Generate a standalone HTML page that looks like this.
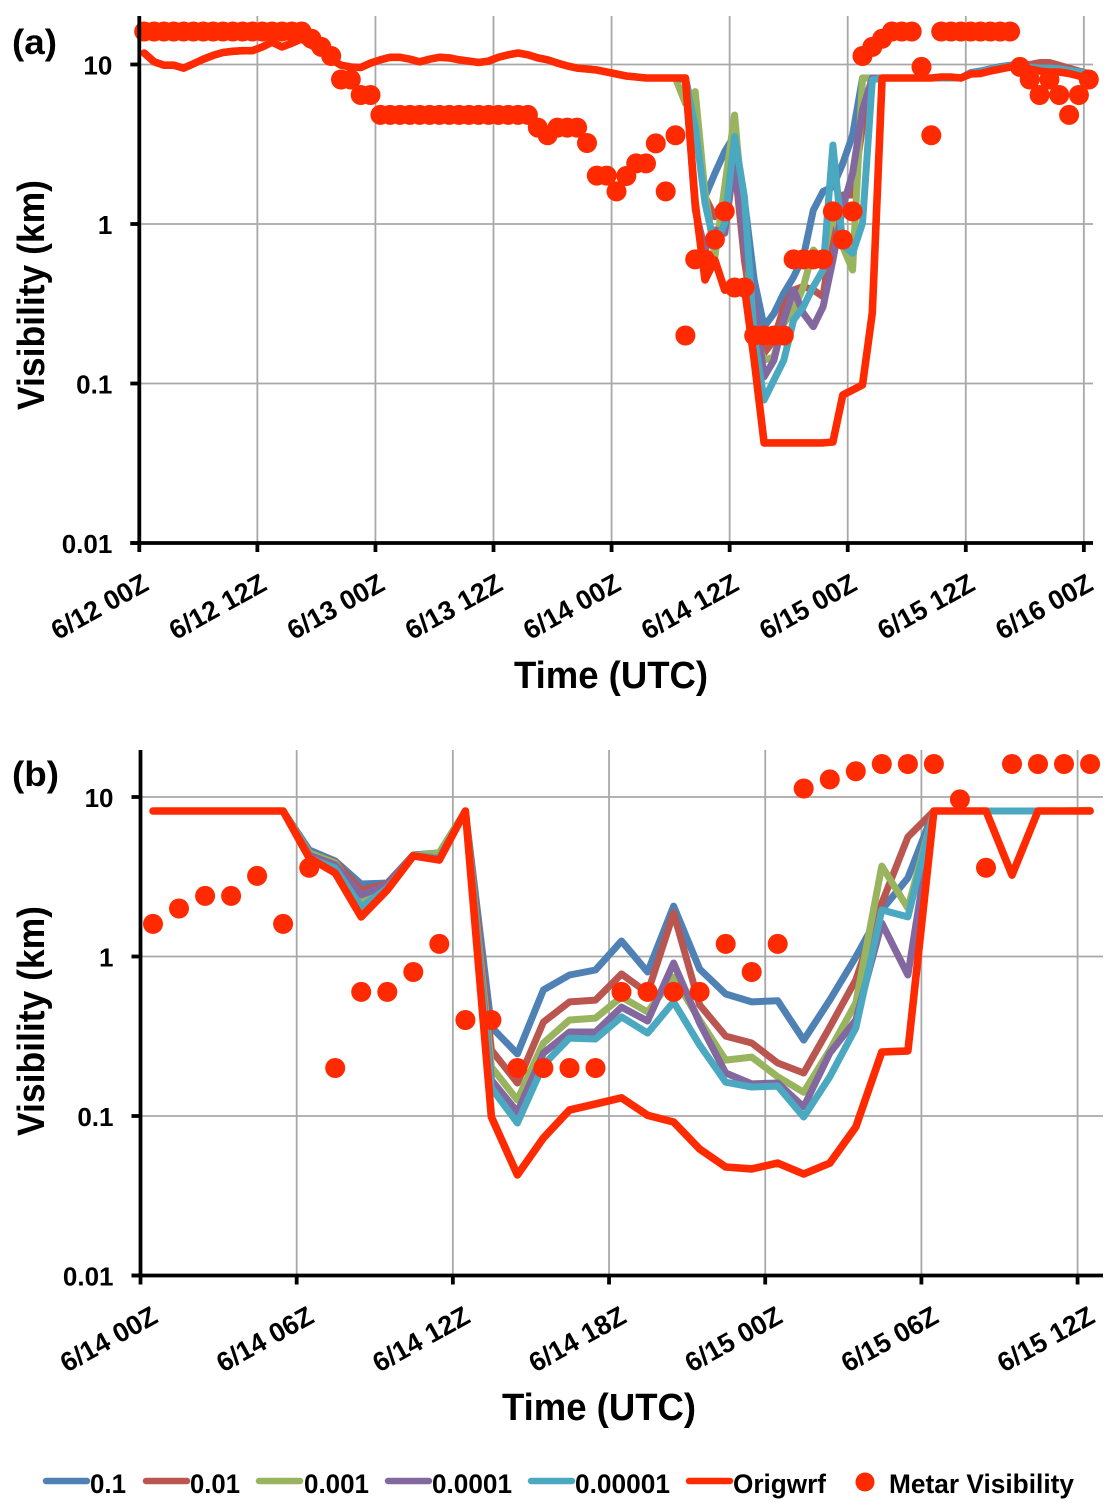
<!DOCTYPE html>
<html lang="en">
<head>
<meta charset="utf-8">
<title>Visibility time series</title>
<style>
html,body{margin:0;padding:0;background:#fff;}
svg{display:block;}
text{font-family:"Liberation Sans",sans-serif;font-weight:bold;fill:#000;}
</style>
</head>
<body>
<svg id="chart" xmlns="http://www.w3.org/2000/svg" width="1120" height="1512" viewBox="0 0 1120 1512">
  <rect x="0" y="0" width="1120" height="1512" fill="#fff"/>
  <g id="panelA"></g>
  <g id="panelB"></g>

  <text x="12" y="54" font-size="35" textLength="45" lengthAdjust="spacingAndGlyphs">(a)</text>
  <text x="12" y="786" font-size="35" textLength="47" lengthAdjust="spacingAndGlyphs">(b)</text>
  <text transform="translate(44,410) rotate(-90)" font-size="38" textLength="230" lengthAdjust="spacingAndGlyphs">Visibility (km)</text>
  <text transform="translate(44,1136) rotate(-90)" font-size="38" textLength="230" lengthAdjust="spacingAndGlyphs">Visibility (km)</text>
  <text x="514" y="688" font-size="38" textLength="194" lengthAdjust="spacingAndGlyphs">Time (UTC)</text>
  <text x="502" y="1420" font-size="38" textLength="194" lengthAdjust="spacingAndGlyphs">Time (UTC)</text>

  <g>
    <g>
      <line x1="46" y1="1481" x2="87" y2="1481" stroke="#4f81b5" stroke-width="6.5" stroke-linecap="round"/>
      <text x="90" y="1493" font-size="27" textLength="36" lengthAdjust="spacingAndGlyphs">0.1</text>
    </g>
    <g>
      <line x1="146" y1="1481" x2="187" y2="1481" stroke="#bb5550" stroke-width="6.5" stroke-linecap="round"/>
      <text x="190" y="1493" font-size="27" textLength="50" lengthAdjust="spacingAndGlyphs">0.01</text>
    </g>
    <g>
      <line x1="259" y1="1481" x2="300" y2="1481" stroke="#98b45f" stroke-width="6.5" stroke-linecap="round"/>
      <text x="304" y="1493" font-size="27" textLength="65" lengthAdjust="spacingAndGlyphs">0.001</text>
    </g>
    <g>
      <line x1="388" y1="1481" x2="429" y2="1481" stroke="#83689f" stroke-width="6.5" stroke-linecap="round"/>
      <text x="432" y="1493" font-size="27" textLength="80" lengthAdjust="spacingAndGlyphs">0.0001</text>
    </g>
    <g>
      <line x1="531" y1="1481" x2="572" y2="1481" stroke="#4aa8c0" stroke-width="6.5" stroke-linecap="round"/>
      <text x="575" y="1493" font-size="27" textLength="95" lengthAdjust="spacingAndGlyphs">0.00001</text>
    </g>
    <g>
      <line x1="689" y1="1481" x2="730" y2="1481" stroke="#ff2a00" stroke-width="6.5" stroke-linecap="round"/>
      <text x="733" y="1493" font-size="27" textLength="93" lengthAdjust="spacingAndGlyphs">Origwrf</text>
    </g>
    <g>
      <circle cx="865" cy="1482" r="9.5" fill="#ff2a00"/>
      <text x="889" y="1493" font-size="27" textLength="185" lengthAdjust="spacingAndGlyphs">Metar Visibility</text>
    </g>
  </g>
</svg>
<script>
/* ---------- shared ---------- */
const seriesNames = ['0.1','0.01','0.001','0.0001','0.00001','origwrf'];
const seriesColors = ['#4f81b5','#bb5550','#98b45f','#83689f','#4aa8c0','#ff2a00'];
const yTickValues = [10,1,0.1,0.01];
const yTickLabels = ['10','1','0.1','0.01'];

/* ---------- panel (a): hourly, 6/12 00Z onward, km ---------- */
const xTickLabelsA = ['6/12 00Z','6/12 12Z','6/13 00Z','6/13 12Z','6/14 00Z','6/14 12Z','6/15 00Z','6/15 12Z','6/16 00Z'];
const vis01A = [11.8,10.4,9.9,9.9,9.5,10.1,10.8,11.4,11.9,12.1,12.2,12.2,12.9,13.8,12.9,13.6,14.5,13.2,12,10.8,9.9,9.65,9.57,10.2,10.7,11.1,11.1,10.8,10.4,10.8,11.1,11,10.7,10.5,10.3,10.5,11.1,11.5,11.8,11.5,11,10.7,10.2,9.8,9.5,9.37,9.24,8.97,8.72,8.47,8.35,8.23,8.23,8.23,8.23,
  8.23,4.28,1.48,2.08,2.84,3.61,1.41,.446,.227,.275,.368,.466,.624,1.22,1.6,1.71,2.4,3.61,8.23,8.23,
  8.23,8.23,8.23,8.23,8.23,8.23,8.23,8.23,8.23,8.9,9.1,9.4,9.7,9.9,9.9,9.7,9.5,9.4,9.3,9.1,8.9,8.6];
const vis001A = [11.8,10.4,9.9,9.9,9.5,10.1,10.8,11.4,11.9,12.1,12.2,12.2,12.9,13.8,12.9,13.6,14.5,13.2,12,10.8,9.9,9.65,9.57,10.2,10.7,11.1,11.1,10.8,10.4,10.8,11.1,11,10.7,10.5,10.3,10.5,11.1,11.5,11.8,11.5,11,10.7,10.2,9.8,9.5,9.37,9.24,8.97,8.72,8.47,8.35,8.23,8.23,8.23,8.23,
  8.23,4.28,1.48,1.11,1.28,2.4,.595,.227,.155,.187,.303,.386,.405,.386,.35,.962,1.52,1.52,4.08,8.23,
  8.23,8.23,8.23,8.23,8.23,8.23,8.23,8.23,8.23,8.8,9,9.3,9.6,9.8,9.9,10,10.3,10.3,9.9,9.5,9.1,8.8];
const vis0001A = [11.8,10.4,9.9,9.9,9.5,10.1,10.8,11.4,11.9,12.1,12.2,12.2,12.9,13.8,12.9,13.6,14.5,13.2,12,10.8,9.9,9.65,9.57,10.2,10.7,11.1,11.1,10.8,10.4,10.8,11.1,11,10.7,10.5,10.3,10.5,11.1,11.5,11.8,11.5,11,10.7,10.2,9.8,9.5,9.37,9.24,8.97,8.72,8.47,8.35,8.23,8.23,8.23,8.19,
  5.71,6.76,1.56,.624,1.71,4.82,.962,.206,.14,.147,.238,.289,.405,.687,.595,1.22,.721,.515,8.19,8.23,
  8.23,8.23,8.23,8.23,8.23,8.23,8.23,8.23,8.23,8.8,9,9.3,9.6,9.8,9.8,9.7,9.5,9.4,9.3,9.1,8.9,8.6];
const vis00001A = [11.8,10.4,9.9,9.9,9.5,10.1,10.8,11.4,11.9,12.1,12.2,12.2,12.9,13.8,12.9,13.6,14.5,13.2,12,10.8,9.9,9.65,9.57,10.2,10.7,11.1,11.1,10.8,10.4,10.8,11.1,11,10.7,10.5,10.3,10.5,11.1,11.5,11.8,11.5,11,10.7,10.2,9.8,9.5,9.37,9.24,8.97,8.72,8.47,8.35,8.23,8.23,8.23,8.23,
  8,1.22,.687,.917,.874,2.52,.721,.334,.11,.14,.25,.386,.275,.227,.303,.595,1.28,2.08,5.19,8.23,
  8.23,8.23,8.23,8.23,8.23,8.23,8.23,8.23,8.23,8.8,9,9.3,9.6,9.8,9.8,9.7,9.5,9.4,9.3,9.1,8.9,8.6];
const vis000001A = [11.8,10.4,9.9,9.9,9.5,10.1,10.8,11.4,11.9,12.1,12.2,12.2,12.9,13.8,12.9,13.6,14.5,13.2,12,10.8,9.9,9.65,9.57,10.2,10.7,11.1,11.1,10.8,10.4,10.8,11.1,11,10.7,10.5,10.3,10.5,11.1,11.5,11.8,11.5,11,10.7,10.2,9.8,9.5,9.37,9.24,8.97,8.72,8.47,8.35,8.23,8.23,8.23,8.23,
  8,4.08,1.35,.721,1.01,3.53,1.48,.197,.0788,.105,.14,.25,.303,.405,.515,3.13,.738,.655,1.01,8,
  8.23,8.23,8.23,8.23,8.23,8.23,8.23,8.23,8.23,8.8,9,9.3,9.6,9.8,9.8,9.6,9.5,9.5,9.4,9.2,9,8.8];
const visOrigA = [11.8,10.4,9.9,9.9,9.5,10.1,10.8,11.4,11.9,12.1,12.2,12.2,12.9,13.8,12.9,13.6,14.5,13.2,12,10.8,9.9,9.65,9.57,10.2,10.7,11.1,11.1,10.8,10.4,10.8,11.1,11,10.7,10.5,10.3,10.5,11.1,11.5,11.8,11.5,11,10.7,10.2,9.8,9.5,9.37,9.24,8.97,8.72,8.47,8.35,8.23,8.23,8.23,8.23,
  8.23,1.355,.446,.594,.385,.403,.403,.14,.0424,.0424,.0424,.0424,.0424,.0424,.0424,.043,.0847,.091,.098,.277,
  8.23,8.23,8.23,8.23,8.23,8.23,8.35,8.35,8.23,8.72,8.78,9.1,9.37,9.65,9.65,9.37,9.1,8.97,8.97,8.78,8.47,8.11];
const metarA = [16.1,16.1,16.1,16.1,16.1,16.1,16.1,16.1,16.1,16.1,16.1,16.1,16.1,16.1,16.1,16.1,16.1,14.5,12.9,11.3,8.05,8.05,6.44,6.44,
  4.83,4.83,4.83,4.83,4.83,4.83,4.83,4.83,4.83,4.83,4.83,4.83,4.83,4.83,4.83,4.83,4.02,3.6,4.02,4.02,4.02,3.22,2.01,2.01,
  1.6,2,2.4,2.4,3.2,1.6,3.6,.2,.6,.6,.8,1.2,.4,.4,.2,.2,.2,.2,.6,.6,.6,.6,1.2,.8,1.2,11.3,12.9,14.5,16.1,16.1,16.1,9.66,3.6,
  16.1,16.1,16.1,16.1,16.1,16.1,16.1,16.1,9.66,8.05,6.44,8.05,6.44,4.83,6.44,8.05];

/* ---------- panel (b): hourly, 6/14 00Z onward, km ---------- */
const xTickLabelsB = ['6/14 00Z','6/14 06Z','6/14 12Z','6/14 18Z','6/15 00Z','6/15 06Z','6/15 12Z'];
const vis01B = [8.17,8.17,8.17,8.17,8.17,8.17,4.65,3.97,2.85,2.89,4.33,4.46,8.17,.361,.245,.617,.766,.823,1.25,.8,2.07,.835,.582,.519,.528,.299,.533,.993,1.96,3.11,8.17,8.17,8.17,8.17,8.17,8.17,8.17];
const vis001B = [8.17,8.17,8.17,8.17,8.17,8.17,4.46,3.91,2.61,2.85,4.33,4.15,8.17,.259,.161,.388,.519,.533,.777,.59,1.87,.497,.317,.287,.215,.186,.361,.713,2.16,5.61,8.17,8.17,8.17,8.17,8.17,8.17,8.17];
const vis0001B = [8.17,8.17,8.17,8.17,8.17,8.17,4.46,3.86,2.26,2.77,4.27,4.46,8.17,.203,.126,.287,.4,.411,.557,.449,.743,.4,.224,.234,.176,.141,.259,.511,3.69,2.01,8.17,8.17,8.17,8.17,8.17,8.17,8.25];
const vis00001B = [8.17,8.17,8.17,8.17,8.17,8.17,4.33,3.75,2.43,2.81,4.27,4.15,8.17,.168,.106,.248,.336,.336,.482,.394,.91,.383,.186,.159,.161,.114,.248,.4,1.62,.766,8.17,8.17,8.17,8.17,8.17,8.17,8.17];
const vis000001B = [8.17,8.17,8.17,8.17,8.17,8.17,4.15,3.59,2.04,2.69,4.27,4.15,8.17,.15,.0904,.209,.308,.304,.418,.331,.519,.279,.163,.152,.154,.0986,.176,.356,1.96,1.77,8.17,8.17,8.17,8.17,8.17,8.17,8.17];
const visOrigB = [8.17,8.17,8.17,8.17,8.17,8.17,4.15,3.34,1.77,2.61,4.27,4.03,8.17,.0986,.0427,.0728,.109,.119,.13,.101,.0917,.0621,.0479,.0466,.0507,.0433,.0507,.0853,.252,.256,8.17,8.17,8.17,3.24,8.17,8.17,8.17];
const metarB = [1.6,2,2.4,2.4,3.2,1.6,3.6,.2,.6,.6,.8,1.2,.4,.4,.2,.2,.2,.2,.6,.6,.6,.6,1.2,.8,1.2,11.3,12.9,14.5,16.1,16.1,16.1,9.66,3.6,16.1,16.1,16.1,16.1];

const SVGNS = 'http://www.w3.org/2000/svg';
function mk(parent, tag, attrs) {
  const el = document.createElementNS(SVGNS, tag);
  for (const k in attrs) el.setAttribute(k, attrs[k]);
  parent.appendChild(el);
  return el;
}

function drawPanel(root, prefix, ax, seriesList, metar, tickLabels) {
  const x = i => ax.x0 + ax.hourPx * (i + ax.pointOffset);
  const y = v => ax.yTen + (1 - Math.log10(v)) * ax.decadePx;
  const xTickPos = k => ax.x0 + ax.hourPx * ax.tickHours * k;
  const yBottom = y(0.01);

  /* gridlines */
  yTickValues.slice(0, 3).forEach(function (v) {
    const g = mk(root, 'line', {x1: ax.x0, x2: ax.xEnd, y1: y(v), y2: y(v), stroke: '#a8a8a8', 'stroke-width': 1.8});
    
    
  });
  tickLabels.forEach(function (lab, k) {
    if (k === 0) return;
    const g = mk(root, 'line', {x1: xTickPos(k), x2: xTickPos(k), y1: ax.yTop, y2: yBottom, stroke: '#a8a8a8', 'stroke-width': 1.8});
    
    
  });

  /* series */
  seriesList.forEach(function (vals, s) {
    const pts = vals.map(function (v, i) { return x(i).toFixed(1) + ',' + y(v).toFixed(1); }).join(' ');
    const line = mk(root, 'polyline', {points: pts, fill: 'none', stroke: seriesColors[s],
      'stroke-width': s === 5 ? 7.6 : 7, 'stroke-linejoin': 'round', 'stroke-linecap': 'round'});
    
    
  });

  /* metar points */
  metar.forEach(function (v, i) {
    const c = mk(root, 'circle', {cx: x(i).toFixed(1), cy: y(v).toFixed(1), r: 10, fill: '#ff2a00'});
    
    
  });

  /* axes */
  const yAxis = mk(root, 'line', {x1: ax.x0, x2: ax.x0, y1: ax.yTop, y2: yBottom + 1.8, stroke: '#000', 'stroke-width': 3.8});
  
  
  const xAxis = mk(root, 'line', {x1: ax.x0 - 9, x2: ax.xEnd, y1: yBottom, y2: yBottom, stroke: '#000', 'stroke-width': 3.8});
  
  

  yTickValues.forEach(function (v, k) {
    const t = mk(root, 'line', {x1: ax.x0 - 9, x2: ax.x0, y1: y(v), y2: y(v), stroke: '#000', 'stroke-width': 3.8});
    
    
    const lab = mk(root, 'text', {x: ax.x0 - 27, y: y(v) + 10, 'text-anchor': 'end', 'font-size': 26});
    lab.textContent = yTickLabels[k];
    
    
  });

  tickLabels.forEach(function (text, k) {
    const t = mk(root, 'line', {x1: xTickPos(k), x2: xTickPos(k), y1: yBottom, y2: yBottom + 9, stroke: '#000', 'stroke-width': 3.8});
    
    
    const lx = xTickPos(k) + ax.labelDx;
    const ly = yBottom + 46;
    const lab = mk(root, 'text', {x: 0, y: 0, 'text-anchor': 'end', 'font-size': 27,
      textLength: 106, lengthAdjust: 'spacingAndGlyphs',
      transform: 'translate(' + lx + ',' + ly + ') rotate(-29)'});
    lab.textContent = text;
    
    
  });
}

drawPanel(document.getElementById('panelA'), 'panel-a',
  {x0: 139.3, xEnd: 1093, yTop: 16, yTen: 64.5, decadePx: 159.5, hourPx: 9.839, tickHours: 12, pointOffset: 0.5, labelDx: 11},
  [vis01A, vis001A, vis0001A, vis00001A, vis000001A, visOrigA], metarA, xTickLabelsA);

drawPanel(document.getElementById('panelB'), 'panel-b',
  {x0: 140.5, xEnd: 1103, yTop: 750, yTen: 797, decadePx: 159.5, hourPx: 26.03, tickHours: 6, pointOffset: 0.48, labelDx: 19},
  [vis01B, vis001B, vis0001B, vis00001B, vis000001B, visOrigB], metarB, xTickLabelsB);
</script>
</body>
</html>
